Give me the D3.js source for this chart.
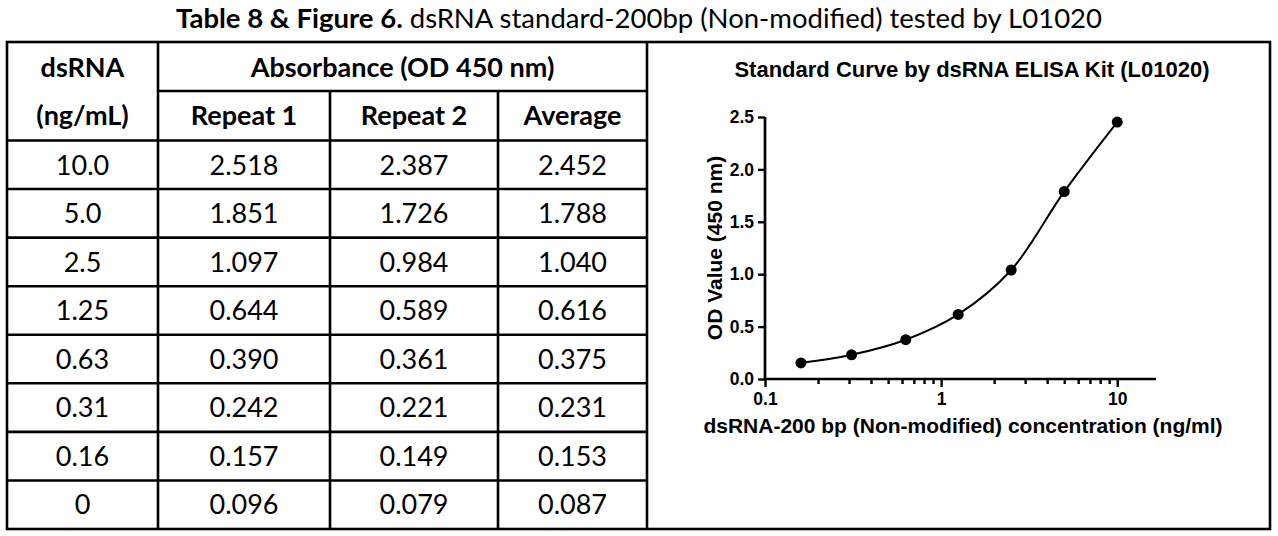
<!DOCTYPE html>
<html>
<head>
<meta charset="utf-8">
<script src="https://cdn.jsdelivr.net/npm/d3@7"></script>
<style>
  body { margin: 0; background: #fff; }
  svg { display: block; }
</style>
</head>
<body>
<svg id="chart" width="1278" height="536"></svg>
<script>
// table data
const concLabels = ["10.0", "5.0", "2.5", "1.25", "0.63", "0.31", "0.16", "0"];
const repeat1 = ["2.518", "1.851", "1.097", "0.644", "0.390", "0.242", "0.157", "0.096"];
const repeat2 = ["2.387", "1.726", "0.984", "0.589", "0.361", "0.221", "0.149", "0.079"];
const average = ["2.452", "1.788", "1.040", "0.616", "0.375", "0.231", "0.153", "0.087"];
const headers = ["Repeat 1", "Repeat 2", "Average"];

// curve data (0 is left out on the log axis)
const concValues = [10, 5, 2.5, 1.25, 0.63, 0.31, 0.16];
const odValues = [2.452, 1.788, 1.040, 0.616, 0.375, 0.231, 0.153];
const yTicks = [0, 0.5, 1.0, 1.5, 2.0, 2.5];
const xMajorTicks = [0.1, 1, 10];
const xMinorTicks = [0.2, 0.3, 0.4, 0.5, 0.6, 0.7, 0.8, 0.9, 2, 3, 4, 5, 6, 7, 8, 9];

const svg = d3.select("#chart");
const tableFont = "Lato, 'Open Sans', sans-serif";
const chartFont = "'Liberation Sans', Arial, sans-serif";

// caption above the table
const caption = svg.append("text")
    .attr("x", 639)
    .attr("y", 28)
    .attr("text-anchor", "middle")
    .style("font-family", tableFont)
    .style("font-size", "27.5px");
caption.append("tspan").style("font-weight", "bold").text("Table 8 & Figure 6.");
caption.append("tspan").text(" dsRNA standard-200bp (Non-modified) tested by L01020");

// table grid
const colX = [7, 158, 330, 498, 647, 1270];
const tableTop = 42, subLine = 91, headBottom = 140.5, tableBottom = 529;
const rowH = (tableBottom - headBottom) / concLabels.length;
const grid = svg.append("g")
    .attr("stroke", "#000")
    .attr("stroke-width", 2.6)
    .attr("fill", "none");

grid.append("rect")
    .attr("x", colX[0]).attr("y", tableTop)
    .attr("width", colX[5] - colX[0]).attr("height", tableBottom - tableTop);

[1, 2, 3, 4].forEach(i => {
    grid.append("line")
        .attr("x1", colX[i]).attr("x2", colX[i])
        .attr("y1", (i === 2 || i === 3) ? subLine : tableTop)
        .attr("y2", tableBottom);
});

grid.append("line")
    .attr("x1", colX[1]).attr("x2", colX[4])
    .attr("y1", subLine).attr("y2", subLine);

d3.range(concLabels.length).forEach(i => {
    const yy = headBottom + i * rowH;
    grid.append("line")
        .attr("x1", colX[0]).attr("x2", colX[4])
        .attr("y1", yy).attr("y2", yy);
});

// header text
const head = svg.append("g")
    .attr("text-anchor", "middle")
    .style("font-family", tableFont)
    .style("font-size", "27px")
    .style("font-weight", "bold");

head.append("text").attr("x", (colX[0] + colX[1]) / 2).attr("y", 77).text("dsRNA");
head.append("text").attr("x", (colX[0] + colX[1]) / 2).attr("y", 125).text("(ng/mL)");
head.append("text").attr("x", (colX[1] + colX[4]) / 2).attr("y", 77).text("Absorbance (OD 450 nm)");
headers.forEach((h, i) => {
    head.append("text")
        .attr("x", (colX[i + 1] + colX[i + 2]) / 2)
        .attr("y", 125)
        .text(h);
});

// body text
const columns = [concLabels, repeat1, repeat2, average];
const body = svg.append("g")
    .attr("text-anchor", "middle")
    .style("font-family", tableFont)
    .style("font-size", "27px");

columns.forEach((col, c) => {
    col.forEach((v, r) => {
        body.append("text")
            .attr("x", (colX[c] + colX[c + 1]) / 2)
            .attr("y", headBottom + r * rowH + rowH / 2)
            .attr("dy", "0.36em")
            .text(v);
    });
});

// standard curve
const x = d3.scaleLog().domain([0.1, 16.6]).range([765, 1156]);
const y = d3.scaleLinear().domain([0, 2.5]).range([379, 117]);

const plot = svg.append("g").style("font-family", chartFont);

plot.append("text")
    .attr("x", 972)
    .attr("y", 77)
    .attr("text-anchor", "middle")
    .style("font-size", "22px")
    .style("font-weight", "bold")
    .text("Standard Curve by dsRNA ELISA Kit (L01020)");

const yAxis = plot.append("g")
    .attr("transform", `translate(${x.range()[0]},0)`)
    .call(d3.axisLeft(y).tickValues(yTicks).tickFormat(d3.format(".1f")).tickSize(7).tickPadding(4));

const xMinor = plot.append("g")
    .attr("transform", `translate(0,${y(0)})`)
    .call(d3.axisBottom(x).tickValues(xMinorTicks).tickFormat("").tickSize(5));
xMinor.select(".domain").remove();

const xAxis = plot.append("g")
    .attr("transform", `translate(0,${y(0)})`)
    .call(d3.axisBottom(x).tickValues(xMajorTicks).tickFormat(d3.format("~g")).tickSize(8).tickPadding(6));

[xAxis, yAxis, xMinor].forEach(a => {
    a.selectAll(".domain").attr("stroke-width", 2.7).attr("stroke", "#000");
    a.selectAll(".tick line").attr("stroke-width", 2.4).attr("stroke", "#000");
    a.selectAll(".tick text")
        .attr("fill", "#000")
        .style("font-family", chartFont)
        .style("font-size", "17.5px")
        .style("font-weight", "bold");
});
yAxis.select(".domain").attr("d", `M0,${y(2.5)}V${y(0)}`);
xAxis.select(".domain").attr("d", `M${x.range()[0]},0H${x.range()[1]}`);

const points = concValues.map((c, i) => ({ c, od: odValues[i] }));
const line = d3.line()
    .x(d => x(d.c))
    .y(d => y(d.od))
    .curve(d3.curveCatmullRom.alpha(0.5));

plot.append("path")
    .datum(points.slice().sort((a, b) => a.c - b.c))
    .attr("d", line)
    .attr("fill", "none")
    .attr("stroke", "#000")
    .attr("stroke-width", 2);

plot.selectAll("circle.pt")
    .data(points)
    .join("circle")
    .attr("class", "pt")
    .attr("cx", d => x(d.c))
    .attr("cy", d => y(d.od))
    .attr("r", 5.5)
    .attr("fill", "#000");

plot.append("text")
    .attr("transform", "translate(722,248) rotate(-90)")
    .attr("text-anchor", "middle")
    .style("font-size", "21px")
    .style("font-weight", "bold")
    .text("OD Value (450 nm)");

plot.append("text")
    .attr("x", 963)
    .attr("y", 433)
    .attr("text-anchor", "middle")
    .style("font-size", "21px")
    .style("font-weight", "bold")
    .text("dsRNA-200 bp (Non-modified) concentration (ng/ml)");
</script>
</body>
</html>
